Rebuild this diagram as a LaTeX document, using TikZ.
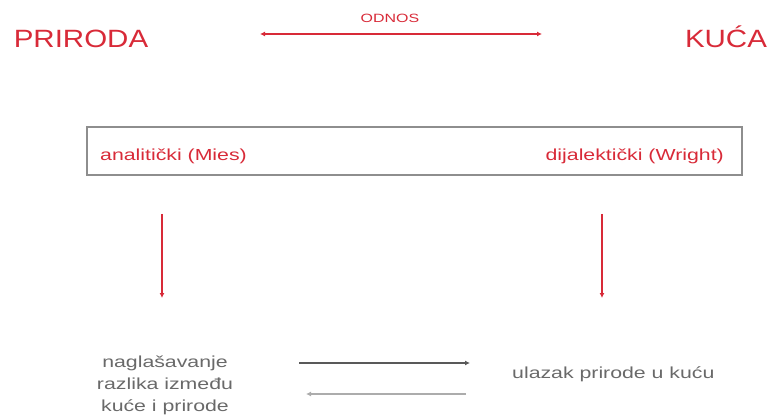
\documentclass[tikz,border=0pt]{standalone}
\usepackage{fontspec}
\setmainfont{Liberation Sans}
\newfontfamily\widesans[FakeStretch=1.33]{Liberation Sans}
\newfontfamily\bigsans[FakeStretch=1.18]{Liberation Sans}
\usepackage{tikz}
\usetikzlibrary{arrows.meta, positioning}
\usepackage{xcolor}
\definecolor{odred}{RGB}{216,42,56}
\definecolor{odgray}{RGB}{105,105,105}

\begin{document}
\begin{tikzpicture}[x=1pt, y=-1pt]
  \tikzset{title/.style={inner sep=0pt, text=odred,
                         font=\bigsans\fontsize{25}{30}\selectfont}}
  \tikzset{redtxt/.style={inner sep=0pt, text=odred,
                          font=\widesans\fontsize{16}{22}\selectfont}}
  \tikzset{graytxt/.style={inner sep=0pt, text=odgray,
                           font=\widesans\fontsize{16}{22}\selectfont}}
  \tikzset{redarrow/.style={draw=odred, line width=1.4pt,
                            -{Latex[length=5pt, width=5pt]}}}
  \tikzset{grayarrow/.style={line width=1.3pt,
                             -{Latex[length=5pt, width=5pt]}}}

  \useasboundingbox (0,0) rectangle (772,417);

  % Headings
  \node[title, anchor=base] (priroda) at (81,48) {PRIRODA};
  \node[title, anchor=base] (kuca) at (726,48) {KUĆA};
  \node[inner sep=0pt, text=odred, anchor=base,
        font=\widesans\fontsize{12}{14}\selectfont] (odnos) at (390,23) {ODNOS};
  % Relation arrow
  \coordinate (odL) at (260,34);
  \coordinate (odR) at (542,34);
  \draw[redarrow, {Latex[length=5pt, width=5pt]}-{Latex[length=5pt, width=5pt]}] (odL) -- (odR);

  % Frame with the two approaches
  \node[draw=odgray!75, line width=1.4pt, minimum width=655pt,
        minimum height=48pt, inner sep=0pt] (frame) at (414.5,151) {};
  \node[redtxt, anchor=base west] (mies) at (100,161) {analitički (Mies)};
  \node[redtxt, anchor=base east] (wright) at (724,161) {dijalektički (Wright)};

  % Down arrows
  \coordinate (downLa) at (162,214);
  \coordinate (downLb) at (162,298);
  \coordinate (downRa) at (602,214);
  \coordinate (downRb) at (602,298);
  \draw[redarrow] (downLa) -- (downLb);
  \draw[redarrow] (downRa) -- (downRb);

  % Outcomes
  \node[graytxt, align=center] (razlika) at (165,385)
    {naglašavanje\\razlika između\\kuće i prirode};
  \node[graytxt, anchor=base west] (ulazak) at (512,378) {ulazak prirode u kuću};

  % Exchange arrows
  \coordinate (exTa) at (299,363);
  \coordinate (exTb) at (470,363);
  \coordinate (exBa) at (466,394);
  \coordinate (exBb) at (306,394);
  \draw[grayarrow, draw=odgray!85!black] (exTa) -- (exTb);
  \draw[grayarrow, draw=odgray!55, line width=2.2pt] (exBa) -- (exBb);
\end{tikzpicture}
\end{document}
